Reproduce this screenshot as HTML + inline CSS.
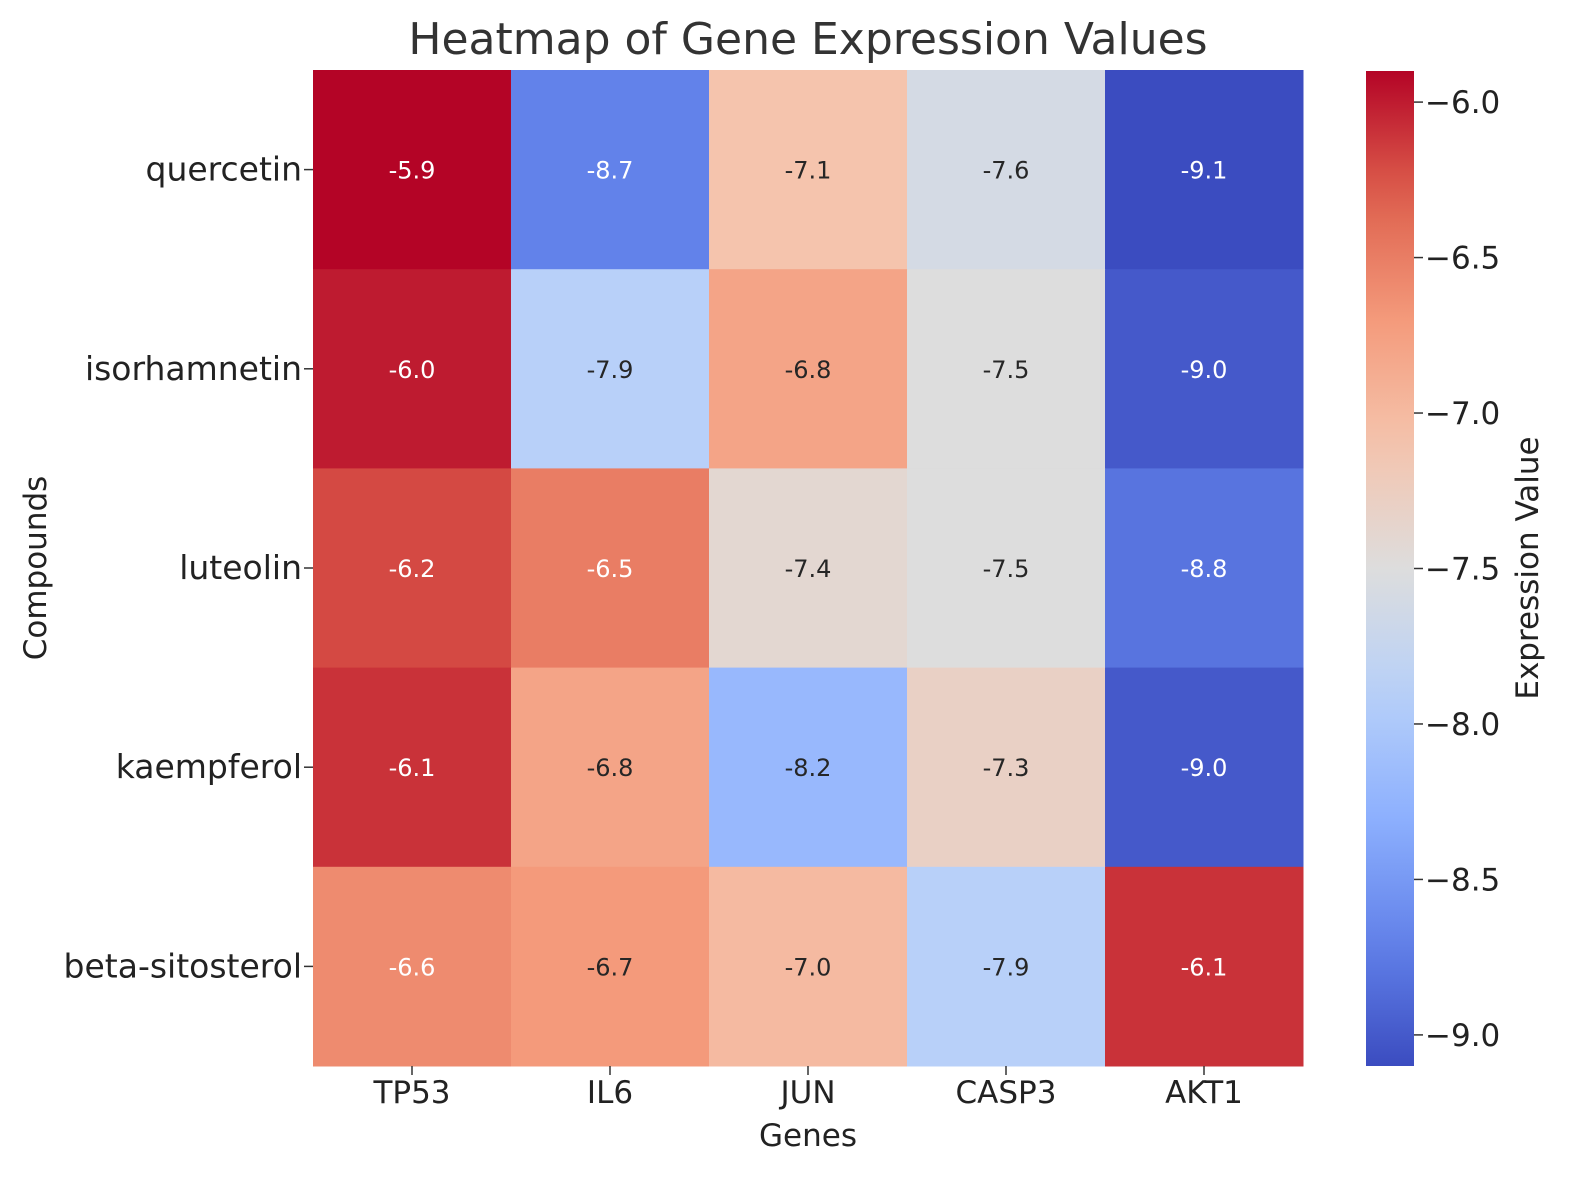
<!DOCTYPE html>
<html><head><meta charset="utf-8"><style>
body{margin:0;background:#fff;}
svg{display:block;font-family:"DejaVu Sans","Liberation Sans",sans-serif;}
</style></head><body>
<svg id="chart" width="1578" height="1180">
<defs><linearGradient id="cbgrad" x1="0" y1="1" x2="0" y2="0"></linearGradient></defs>
<text x="808" y="54" font-size="44" text-anchor="middle" fill="#333">Heatmap of Gene Expression Values</text>
<g id="cells"></g>
<g id="axes"></g>
</svg>
<script>
const genes = ["TP53","IL6","JUN","CASP3","AKT1"];
const compounds = ["quercetin","isorhamnetin","luteolin","kaempferol","beta-sitosterol"];
const values = [
  [-5.9,-8.7,-7.1,-7.6,-9.1],
  [-6.0,-7.9,-6.8,-7.5,-9.0],
  [-6.2,-6.5,-7.4,-7.5,-8.8],
  [-6.1,-6.8,-8.2,-7.3,-9.0],
  [-6.6,-6.7,-7.0,-7.9,-6.1]
];
const cbTicks = [-6.0,-6.5,-7.0,-7.5,-8.0,-8.5,-9.0];
const vmin=-9.1, vmax=-5.9;
const NS="http://www.w3.org/2000/svg";
const X0=313,X1=1303,Y0=70,Y1=1066;
const cw=(X1-X0)/genes.length, ch=(Y1-Y0)/compounds.length;
const xPos=i=>X0+i*cw, yPos=j=>Y0+j*ch;
const CB={x:1366,w:48,y0:71,y1:1066};
const cbY=v=>CB.y1-(v-vmin)/(vmax-vmin)*(CB.y1-CB.y0);
const stops=[[59,76,192],[98,130,234],[141,176,254],[184,208,249],[221,221,221],[245,196,173],[244,154,123],[222,96,77],[180,4,38]];
function cmap(t){t=Math.max(0,Math.min(1,t));const p=t*8,i=Math.min(7,Math.floor(p)),f=p-i;
 return stops[i].map((c,k)=>Math.round(c+(stops[i+1][k]-c)*f));}
function el(tag,attrs,parent){const e=document.createElementNS(NS,tag);for(const k in attrs)e.setAttribute(k,attrs[k]);parent.appendChild(e);return e;}
const cells=document.getElementById('cells'), axes=document.getElementById('axes');
values.forEach((row,j)=>row.forEach((v,i)=>{
 const c=cmap((v-vmin)/(vmax-vmin));
 const r=el('rect',{x:xPos(i),y:yPos(j),width:cw+0.5,height:ch+0.5,fill:`rgb(${c})`},cells);
 
 
 const lum=c.map(x=>{x/=255;return x<=0.03928?x/12.92:Math.pow((x+0.055)/1.055,2.4);});
 const L=0.2126*lum[0]+0.7152*lum[1]+0.0722*lum[2];
 const t=el('text',{x:xPos(i)+cw/2,y:yPos(j)+ch/2+9,'font-size':24,'text-anchor':'middle',fill:L<0.408?'#fff':'#262626'},cells);
 t.textContent=v.toFixed(1);
 
 
}));
genes.forEach((g,i)=>{
 const x=xPos(i)+cw/2;
 el('line',{x1:x,x2:x,y1:Y1,y2:Y1+9,stroke:'#333','stroke-width':1.5},axes);
 const t=el('text',{x:x,y:Y1+37,'font-size':31,'text-anchor':'middle',fill:'#222'},axes);
 t.textContent=g;
 
 
});
compounds.forEach((c,j)=>{
 const y=yPos(j)+ch/2;
 el('line',{x1:X0-9,x2:X0,y1:y,y2:y,stroke:'#333','stroke-width':1.5},axes);
 const t=el('text',{x:X0-11,y:y+11,'font-size':33,'text-anchor':'end',fill:'#222'},axes);
 t.textContent=c;
 
 
});
const xl=el('text',{x:808,y:1146,'font-size':31,'text-anchor':'middle',fill:'#222'},axes);
xl.textContent='Genes';


const yl=el('text',{x:46,y:568,'font-size':31,'text-anchor':'middle',fill:'#222',transform:'rotate(-90 46 568)'},axes);
yl.textContent='Compounds';


const grad=document.getElementById('cbgrad');
for(let k=0;k<=20;k++){const c=cmap(k/20);el('stop',{offset:k/20,'stop-color':`rgb(${c})`},grad);}
const cb=el('rect',{x:CB.x,y:CB.y0,width:CB.w,height:CB.y1-CB.y0,fill:'url(#cbgrad)'},axes);


cbTicks.forEach(v=>{
 const y=cbY(v);
 el('line',{x1:CB.x+CB.w,x2:CB.x+CB.w+9,y1:y,y2:y,stroke:'#333','stroke-width':1.5},axes);
 const t=el('text',{x:CB.x+CB.w+11,y:y+11,'font-size':31,fill:'#222'},axes);
 t.textContent='\u2212'+Math.abs(v).toFixed(1);
 
 
});
const cl=el('text',{x:1538,y:568,'font-size':31,'text-anchor':'middle',fill:'#222',transform:'rotate(-90 1538 568)'},axes);
cl.textContent='Expression Value';


</script>
</body></html>
